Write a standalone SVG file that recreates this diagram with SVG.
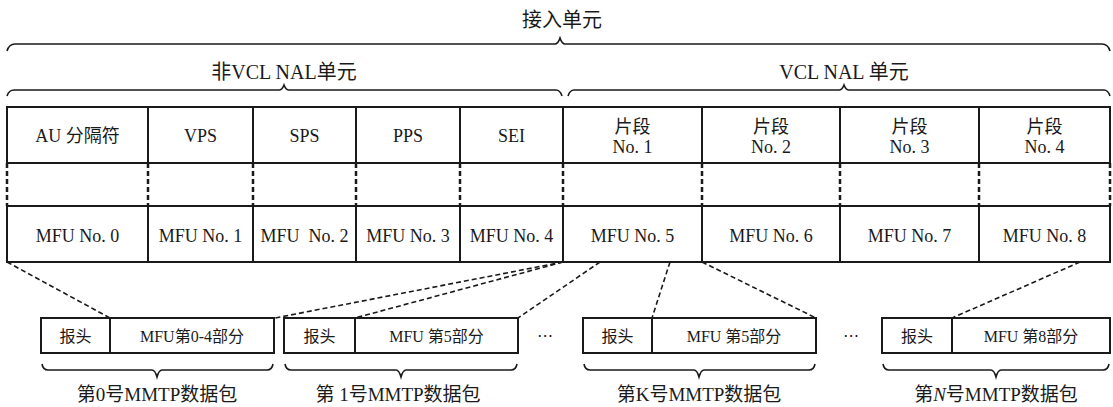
<svg xmlns="http://www.w3.org/2000/svg" width="1113" height="407" viewBox="0 0 1113 407">
<style>
.t{font-family:"Liberation Serif","Noto Sans CJK SC",serif;font-size:18px;fill:#1a1a1a;text-anchor:middle;dominant-baseline:central}
.s{font-size:16px}
.h{font-size:20px}
.b{font-size:19px}
.cell{fill:#fff;stroke:#1a1a1a;stroke-width:2}
.ln{stroke:#1a1a1a;stroke-width:2;fill:none}
.dv{stroke:#1a1a1a;stroke-width:2.5;fill:none;stroke-dasharray:5 3}
.dl{stroke:#1a1a1a;stroke-width:1.6;fill:none;stroke-dasharray:5 3}
.br{stroke:#1a1a1a;stroke-width:1.6;fill:none}
</style>
<rect width="1113" height="407" fill="#fff"/>
<g id="braces">
<path class="br" d="M7,51 Q9,44 15,44 L555,44 Q558,44 560,38 Q562,44 565,44 L1102,44 Q1108,44 1110,51"/>
<text class="t h" x="562" y="20">接入单元</text>
<path class="br" d="M7,96 Q9,90 14,90 L279,90 Q282,90 284,85 Q286,90 289,90 L556,90 Q560,90 562,96"/>
<text class="t h" x="284" y="72">非VCL NAL单元</text>
<path class="br" d="M568,96 Q570,90 574,90 L839,90 Q842,90 844,85 Q846,90 849,90 L1104,90 Q1108,90 1110,96"/>
<text class="t h" x="844" y="72">VCL NAL 单元</text>
</g>
<g id="table">
<rect class="cell" x="7" y="107" width="1103" height="155"/>
<path class="ln" d="M148,107V163M253,107V163M356,107V163M460,107V163M563,107V163M702,107V163M840,107V163M979,107V163"/>
<path class="ln" d="M148,206V262M253,206V262M356,206V262M460,206V262M563,206V262M702,206V262M840,206V262M979,206V262"/>
<rect x="4" y="164" width="1110" height="41" fill="#fff"/>
<path class="dv" d="M7,163V206M148,163V206M253,163V206M356,163V206M460,163V206M563,163V206M702,163V206M840,163V206M979,163V206M1110,163V206"/>
<line class="ln" x1="7" y1="163" x2="1110" y2="163"/>
<line class="ln" x1="7" y1="206" x2="1110" y2="206"/>
</g>
<g id="nal-au"><text class="t" x="77.5" y="136">AU 分隔符</text><text class="t" x="77.5" y="236">MFU No. 0</text></g>
<g id="nal-vps"><text class="t" x="200.5" y="136">VPS</text><text class="t" x="200.5" y="236">MFU No. 1</text></g>
<g id="nal-sps"><text class="t" x="304.5" y="136">SPS</text><text class="t" x="304.5" y="236" xml:space="preserve">MFU  No. 2</text></g>
<g id="nal-pps"><text class="t" x="408" y="136">PPS</text><text class="t" x="408" y="236">MFU No. 3</text></g>
<g id="nal-sei"><text class="t" x="511.5" y="136">SEI</text><text class="t" x="511.5" y="236">MFU No. 4</text></g>
<g id="slice-1"><text class="t" x="632.5" y="127">片段</text><text class="t" x="632.5" y="147">No. 1</text><text class="t" x="632.5" y="236">MFU No. 5</text></g>
<g id="slice-2"><text class="t" x="771" y="127">片段</text><text class="t" x="771" y="147">No. 2</text><text class="t" x="771" y="236">MFU No. 6</text></g>
<g id="slice-3"><text class="t" x="909.5" y="127">片段</text><text class="t" x="909.5" y="147">No. 3</text><text class="t" x="909.5" y="236">MFU No. 7</text></g>
<g id="slice-4"><text class="t" x="1044.5" y="127">片段</text><text class="t" x="1044.5" y="147">No. 4</text><text class="t" x="1044.5" y="236">MFU No. 8</text></g>
<g id="connectors">
<line class="dl" x1="7" y1="262" x2="110" y2="318"/>
<line class="dl" x1="563" y1="262" x2="275" y2="318"/>
<line class="dl" x1="563" y1="262" x2="355" y2="318"/>
<line class="dl" x1="600" y1="262" x2="518" y2="318"/>
<line class="dl" x1="670" y1="262" x2="652" y2="318"/>
<line class="dl" x1="702" y1="262" x2="816" y2="318"/>
<line class="dl" x1="1080" y1="262" x2="952" y2="318"/>
</g>
<g id="packet-0">
<rect class="cell" x="41" y="318" width="233" height="35"/><line class="ln" x1="110" y1="318" x2="110" y2="353"/>
<text class="t s" x="75.5" y="336">报头</text><text class="t s" x="192" y="336">MFU第0-4部分</text>
<path class="br" d="M42,364 Q43,370 48,370 L152,370 Q155,370 157,377 Q159,370 162,370 L267,370 Q272,370 273,364"/>
<text class="t b" x="157" y="394">第0号MMTP数据包</text>
</g>
<g id="packet-1">
<rect class="cell" x="284" y="318" width="234" height="35"/><line class="ln" x1="355" y1="318" x2="355" y2="353"/>
<text class="t s" x="319.5" y="336">报头</text><text class="t s" x="436.5" y="336">MFU 第5部分</text>
<path class="br" d="M285,364 Q286,370 291,370 L396,370 Q399,370 401,377 Q403,370 406,370 L511,370 Q516,370 517,364"/>
<text class="t b" x="398" y="394">第 1号MMTP数据包</text>
</g>
<text class="t s" x="545" y="335" style="font-family:'DejaVu Sans'">⋯</text>
<g id="packet-k">
<rect class="cell" x="583" y="318" width="233" height="35"/><line class="ln" x1="652" y1="318" x2="652" y2="353"/>
<text class="t s" x="617.5" y="336">报头</text><text class="t s" x="734" y="336">MFU 第5部分</text>
<path class="br" d="M584,364 Q585,370 590,370 L694,370 Q697,370 699,377 Q701,370 704,370 L809,370 Q814,370 815,364"/>
<text class="t b" x="699" y="394">第K号MMTP数据包</text>
</g>
<text class="t s" x="851" y="335" style="font-family:'DejaVu Sans'">⋯</text>
<g id="packet-n">
<rect class="cell" x="882" y="318" width="228" height="35"/><line class="ln" x1="952" y1="318" x2="952" y2="353"/>
<text class="t s" x="917" y="336">报头</text><text class="t s" x="1031" y="336">MFU 第8部分</text>
<path class="br" d="M883,364 Q884,370 889,370 L991,370 Q994,370 996,377 Q998,370 1001,370 L1103,370 Q1108,370 1109,364"/>
<text class="t b" x="996" y="394">第<tspan font-style="italic">N</tspan>号MMTP数据包</text>
</g>
</svg>
